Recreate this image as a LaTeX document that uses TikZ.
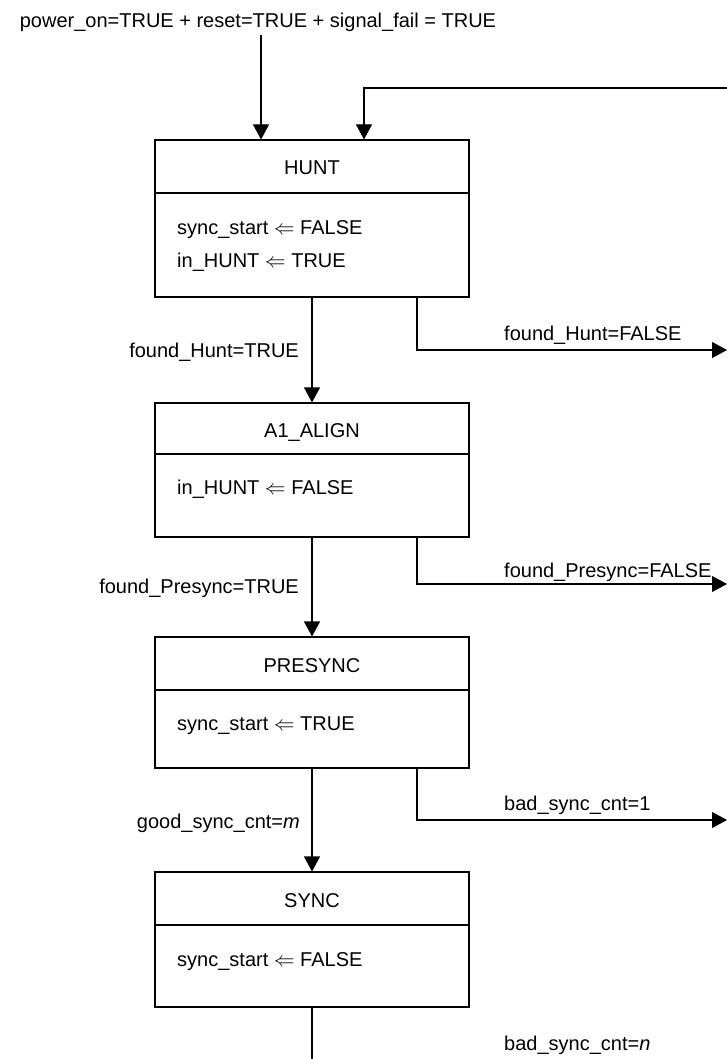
\documentclass[tikz,border=0pt]{standalone}
\usepackage{fontspec}
\setmainfont{Liberation Sans}
\usetikzlibrary{arrows.meta}
\begin{document}
\begin{tikzpicture}[x=1pt,y=-1pt,
  every node/.style={font=\fontsize{20}{24}\selectfont},
  statebox/.style={draw,line width=1.1pt,minimum width=314pt,inner sep=0pt},
  lbl/.style={inner sep=0pt},
  arr/.style={line width=1.1pt,-{Triangle[length=15pt,width=16pt]}},
  plain/.style={line width=1.1pt}]
\useasboundingbox (0,0) rectangle (727,1059);
% boxes
\node[statebox,minimum height=157pt] (hunt) at (312,218.5) {};
\node[statebox,minimum height=134pt] (a1) at (312,470) {};
\node[statebox,minimum height=131pt] (pre) at (312,702.5) {};
\node[statebox,minimum height=135pt] (sync) at (312,939.5) {};
% dividers
\draw[plain] (hunt.west |- 0,193) -- (hunt.east |- 0,193);
\draw[plain] (a1.west |- 0,454) -- (a1.east |- 0,454);
\draw[plain] (pre.west |- 0,690) -- (pre.east |- 0,690);
\draw[plain] (sync.west |- 0,925) -- (sync.east |- 0,925);
% box texts
\node[lbl,anchor=base] (huntT) at (312,175) {HUNT};
\node[lbl,anchor=base west] (huntA) at (177,235) {sync\_start $\Leftarrow$ FALSE};
\node[lbl,anchor=base west] (huntB) at (177,267) {in\_HUNT $\Leftarrow$ TRUE};
\node[lbl,anchor=base] (a1T) at (312,437) {A1\_ALIGN};
\node[lbl,anchor=base west] (a1A) at (177,494) {in\_HUNT $\Leftarrow$ FALSE};
\node[lbl,anchor=base] (preT) at (312,672) {PRESYNC};
\node[lbl,anchor=base west] (preA) at (177,730) {sync\_start $\Leftarrow$ TRUE};
\node[lbl,anchor=base] (syncT) at (312,907) {SYNC};
\node[lbl,anchor=base west] (syncA) at (177,966) {sync\_start $\Leftarrow$ FALSE};
% title and entry arrows
\node[lbl,anchor=base] (title) at (258,28) {power\_on=TRUE + reset=TRUE + signal\_fail = TRUE};
\coordinate (tin) at ([xshift=-51pt]hunt.north);
\coordinate (tstart) at (261,35);
\draw[arr] (tstart) -- (tin);
\coordinate (loopin) at (727,88);
\draw[arr] (loopin) -| ([xshift=52pt]hunt.north);
% transitions down
\draw[arr] (hunt.south) -- (a1.north);
\draw[arr] (a1.south) -- (pre.north);
\draw[arr] (pre.south) -- (sync.north);
\coordinate (syncout) at (312,1059);
\draw[plain] (sync.south) -- (syncout);
% side exits
\coordinate (huntout) at (727,350);
\coordinate (a1out) at (727,584);
\coordinate (preout) at (727,820);
\draw[arr] ([xshift=105pt]hunt.south) |- (huntout);
\draw[arr] ([xshift=105pt]a1.south) |- (a1out);
\draw[arr] ([xshift=105pt]pre.south) |- (preout);
% labels
\node[lbl,anchor=base east] (l1) at (299,357) {found\_Hunt=TRUE};
\node[lbl,anchor=base west] (l2) at (504,340) {found\_Hunt=FALSE};
\node[lbl,anchor=base east] (l3) at (299,593) {found\_Presync=TRUE};
\node[lbl,anchor=base west] (l4) at (504,577) {found\_Presync=FALSE};
\node[lbl,anchor=base east] (l5) at (300,828) {good\_sync\_cnt=\textit{m}};
\node[lbl,anchor=base west] (l6) at (504,810) {bad\_sync\_cnt=1};
\node[lbl,anchor=base west] (l7) at (504,1050) {bad\_sync\_cnt=\textit{n}};
\end{tikzpicture}
\end{document}
